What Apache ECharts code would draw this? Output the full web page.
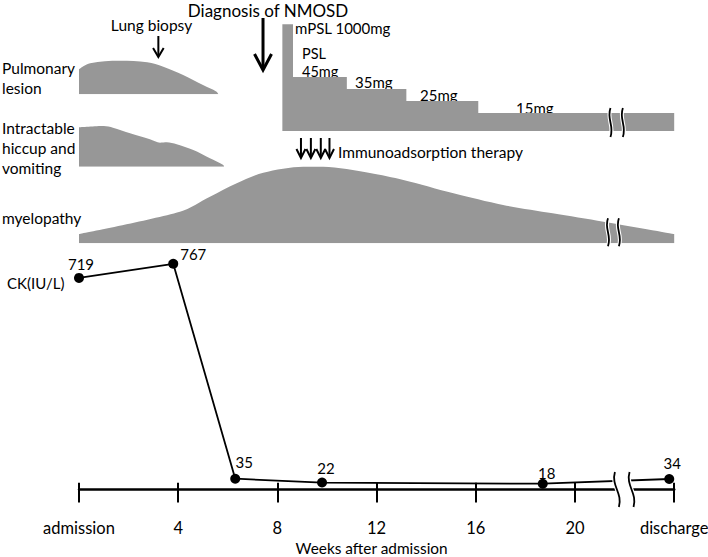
<!DOCTYPE html>
<html><head><meta charset="utf-8">
<script src="https://cdn.jsdelivr.net/npm/echarts@6/dist/echarts.min.js"></script>
<style>html,body{margin:0;padding:0;background:#fff}#c{width:708px;height:557px}</style>
</head><body><div id="c"></div>
<script>
// ---------------- data ----------------
const tickWeeks = [0, 4, 8, 12, 16, 20, 24];
const tickLabels = ['admission', '4', '8', '12', '16', '20', 'discharge'];
const ckWeeks = [0, 3.8, 6.3, 9.8, 18.7, 23.8];
const ckValues = [719, 767, 35, 22, 18, 34];
const pulmonaryLesion = [[0, 25], [0.45, 31], [1.65, 33.6], [2.75, 32], [3.4, 27.6], [4.2, 19.3], [5.0, 9.3], [5.55, 2.6], [5.62, 0]];
const hiccupVomiting = [[0, 39.4], [1.0, 40.7], [1.37, 39], [2.06, 33.4], [2.86, 27.4], [3.27, 24], [3.54, 24.4], [3.94, 22.4], [4.61, 16.7], [5.28, 8.4], [5.82, 1.7], [5.85, 0]];
const myelopathySeverity = [[0, 9.3], [4.07, 31.6], [5.28, 46.6], [6.36, 60], [7.43, 70.6], [9.04, 76.6], [9.85, 76.6], [11.73, 70.3], [13.08, 63.3], [15.1, 50], [17.1, 38.3], [19.1, 30], [21.15, 21.6], [24, 9.3]];
const steroidWeeks = [8.2, 8.63, 10.8, 13.2, 16.1, 24];
const steroidDoses = [1000, 45, 35, 25, 15, 15];
const diagnosisWeek = [7.42];
const biopsyWeek = [3.2];
const immunoWeeks = [8.95, 9.35, 9.75, 10.1];
const steroidBreak = [21.43, 21.93];
const myelopathyBreak = [21.33, 21.77];
const ckBreak = [21.69, 22.28];

// ---------------- layout ----------------
const FONT = 'Lato';
const GRAY = '#979797';
const L = 79, R = 708 - 674.2;

const chart = echarts.init(document.getElementById('c'), null, {renderer: 'svg'});

function gridAt(top, height) {
  return {left: L, right: R, top: top, height: height, containLabel: false, outerBoundsMode: 'none'};
}
function xAxisHidden(i) {
  return {gridIndex: i, type: 'value', min: 0, max: 24, show: false};
}
function yAxisHidden(i, max) {
  return {gridIndex: i, type: 'value', min: 0, max: max, show: false};
}

function squiggles(api, xa, xb, yTop, yBot, slant) {
  const h = yBot - yTop;
  const out = [];
  [xa, xb].forEach(x => {
    const shape = {x1: x - slant, y1: yTop, cpx1: x - slant - 4, cpy1: yTop + h * 0.4,
      cpx2: x + slant + 4, cpy2: yTop + h * 0.6, x2: x + slant, y2: yBot};
    out.push({type: 'bezierCurve', shape: shape, style: {stroke: '#fff', lineWidth: 4, fill: null}});
    out.push({type: 'bezierCurve', shape: shape, style: {stroke: '#000', lineWidth: 1.8, fill: null}});
  });
  return out;
}

function laneBreak(topVal, extTop, extBot) {
  return function (params, api) {
    const xa = api.coord([api.value(0), 0])[0];
    const xb = api.coord([api.value(1), 0])[0];
    const base = api.coord([api.value(0), 0])[1];
    const top = api.coord([api.value(0), topVal])[1];
    return {type: 'group', children: squiggles(api, xa, xb, top - extTop, base + extBot, 0)};
  };
}

function ckBreakRender(params, api) {
  const xa = api.coord([api.value(0), 0])[0];
  const xb = api.coord([api.value(1), 0])[0];
  const base = api.coord([api.value(0), 0])[1];
  const yTop = base - 17, yBot = base + 18, s = 2;
  const children = [{type: 'polygon', shape: {points: [[xa - s, yTop], [xb - s, yTop], [xb + s, yBot], [xa + s, yBot]]},
    style: {fill: '#fff'}}];
  return {type: 'group', children: children.concat(squiggles(api, xa, xb, yTop, yBot, s))};
}

function arrowRender(yTop, yBot, hw, hh, lw) {
  return function (params, api) {
    const x = api.coord([api.value(0), 0])[0];
    return {type: 'group', children: [
      {type: 'line', shape: {x1: x, y1: yTop, x2: x, y2: yBot - 1}, style: {stroke: '#000', lineWidth: lw}},
      {type: 'polyline', shape: {points: [[x - hw, yBot - hh], [x, yBot], [x + hw, yBot - hh]]},
        style: {stroke: '#000', lineWidth: lw, fill: null}}
    ]};
  };
}

function txt(text, x, y, size, align, lh) {
  return {type: 'text', x: x, y: y, silent: true, style: {
    text: text, fontSize: size, fontFamily: FONT, fill: '#000', lineHeight: lh || Math.round(size),
    align: align || 'left', verticalAlign: 'middle', textAlign: align || 'left', textVerticalAlign: 'middle'}};
}

const labelOffsets = [[2, -1], [20, 3], [9, -4], [4, -2], [4, 2], [3, -4]];

const option = {
  animation: false,
  backgroundColor: '#fff',
  grid: [
    gridAt(54.3, 40),
    gridAt(121.7, 45),
    gridAt(24.3, 106.7),
    gridAt(163.3, 80),
    gridAt(254.1, 234.9)
  ],
  xAxis: [
    xAxisHidden(0), xAxisHidden(1), xAxisHidden(2), xAxisHidden(3),
    {gridIndex: 4, type: 'value', min: 0, max: 24, interval: 4, position: 'bottom', offset: 9.3,
      axisLine: {show: true, lineStyle: {color: '#000', width: 2.5}},
      axisTick: {show: true, inside: false, length: 13.4, lineStyle: {color: '#000', width: 2}},
      axisLabel: {margin: 21, fontSize: 16.5, fontFamily: FONT, color: '#000',
        formatter: v => tickLabels[tickWeeks.indexOf(v)]},
      splitLine: {show: false},
      name: 'Weeks after admission', nameLocation: 'middle', nameGap: 42,
      nameTextStyle: {fontSize: 15.4, fontFamily: FONT, color: '#000', padding: [0, 10, 0, 0]}},
    {gridIndex: 4, type: 'value', min: 0, max: 24, interval: 4, position: 'bottom', offset: 9.3,
      axisLine: {show: false},
      axisTick: {show: true, inside: true, length: 15.6, lineStyle: {color: '#000', width: 2}},
      axisLabel: {show: false}, splitLine: {show: false}}
  ],
  yAxis: [
    yAxisHidden(0, 40), yAxisHidden(1, 45), yAxisHidden(2, 106.7 / 1.2), yAxisHidden(3, 80), yAxisHidden(4, 800)
  ],
  series: [
    {type: 'line', xAxisIndex: 0, yAxisIndex: 0, data: pulmonaryLesion, smooth: 0.35, symbol: 'none',
      lineStyle: {width: 0}, areaStyle: {color: GRAY, opacity: 1}},
    {type: 'line', xAxisIndex: 1, yAxisIndex: 1, data: hiccupVomiting, smooth: 0.3, symbol: 'none',
      lineStyle: {width: 0}, areaStyle: {color: GRAY, opacity: 1}},
    {type: 'line', xAxisIndex: 2, yAxisIndex: 2, data: steroidWeeks.map((w, i) => [w, steroidDoses[i]]),
      step: 'end', symbol: 'none', clip: true, lineStyle: {width: 0}, areaStyle: {color: GRAY, opacity: 1}},
    {type: 'line', xAxisIndex: 3, yAxisIndex: 3, data: myelopathySeverity, smooth: 0.3, symbol: 'none',
      lineStyle: {width: 0}, areaStyle: {color: GRAY, opacity: 1}},
    {type: 'line', xAxisIndex: 4, yAxisIndex: 4, z: 5,
      data: ckWeeks.map((w, i) => ({value: [w, ckValues[i]],
        label: {offset: labelOffsets[i]}})),
      symbol: 'circle', symbolSize: 10, itemStyle: {color: '#000'},
      lineStyle: {color: '#000', width: 1.8},
      label: {show: true, position: 'top', distance: 0, fontSize: 15, fontFamily: FONT, color: '#000',
        formatter: p => p.value[1]}},
    {type: 'custom', xAxisIndex: 2, yAxisIndex: 2, z: 10, data: [steroidBreak], renderItem: laneBreak(15, 5, 6)},
    {type: 'custom', xAxisIndex: 3, yAxisIndex: 3, z: 10, data: [myelopathyBreak], renderItem: laneBreak(21, 4, 3)},
    {type: 'custom', xAxisIndex: 4, yAxisIndex: 4, z: 10, data: [ckBreak], renderItem: ckBreakRender},
    {type: 'custom', xAxisIndex: 4, yAxisIndex: 4, z: 10, data: diagnosisWeek.map(w => [w]), renderItem: arrowRender(18, 70, 8.5, 16, 3)},
    {type: 'custom', xAxisIndex: 4, yAxisIndex: 4, z: 10, data: biopsyWeek.map(w => [w]), renderItem: arrowRender(36, 57, 5.3, 9, 2)},
    {type: 'custom', xAxisIndex: 4, yAxisIndex: 4, z: 10, data: immunoWeeks.map(w => [w]), renderItem: arrowRender(138, 158, 4.5, 9, 2)}
  ],
  graphic: [
    txt('Diagnosis of NMOSD', 268, 10, 17, 'center'),
    txt('Lung biopsy', 151.5, 25, 15.5, 'center'),
    txt('Pulmonary', 2, 68, 15.5), txt('lesion', 2, 88, 15.5),
    txt('Intractable', 2, 128, 15.5), txt('hiccup and', 2, 148, 15.5), txt('vomiting', 2, 168, 15.5),
    txt('myelopathy', 2, 218, 15.5),
    txt('mPSL 1000mg', 295, 28, 15),
    txt('PSL', 302, 53.5, 14.5), txt('45mg', 302, 71.5, 14.5),
    txt('35mg', 355, 82, 15), txt('25mg', 420, 95, 15), txt('15mg', 516, 108, 15),
    txt('Immunoadsorption therapy', 338, 152, 15.5),
    txt('CK(IU/L)', 7, 283, 15)
  ]
};
chart.setOption(option);
</script></body></html>
